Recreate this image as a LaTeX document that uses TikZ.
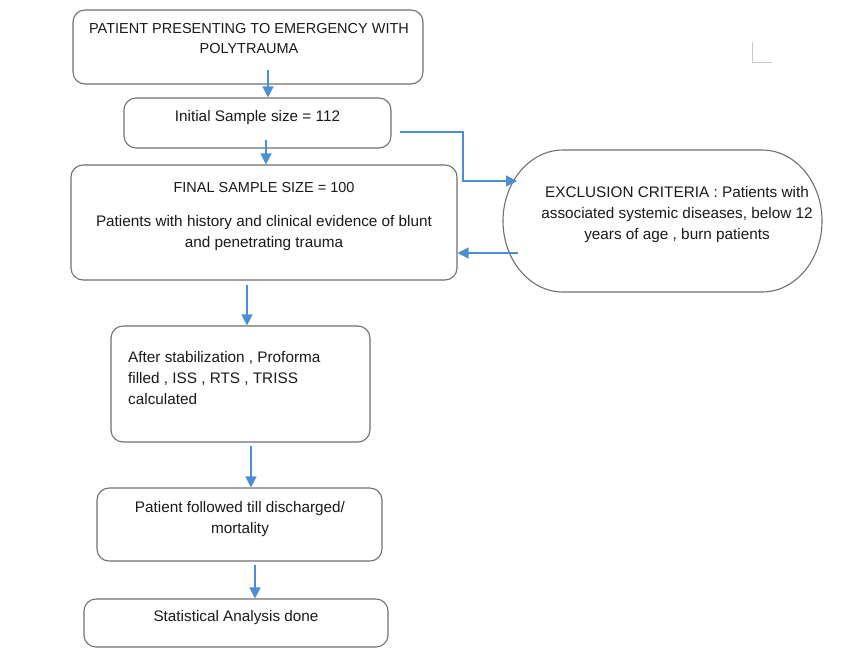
\documentclass[tikz,border=0pt]{standalone}
\usepackage{fontspec}
\setmainfont{Liberation Sans}
\usetikzlibrary{arrows.meta}
\definecolor{boxgray}{HTML}{707070}
\definecolor{arrowblue}{HTML}{4A8FD6}
\definecolor{txtcol}{HTML}{1A1A1A}
\definecolor{faint}{HTML}{C8C8C8}
\begin{document}
\begin{tikzpicture}[x=1pt,y=-1pt,
  box/.style={draw=boxgray,line width=1.1pt,rounded corners=12pt,inner sep=0pt,fill=white},
  txt/.style={text=txtcol,font=\fontsize{15.3}{21.3}\selectfont,align=center,inner sep=0pt},
  capstxt/.style={txt,font=\fontsize{14.5}{20.5}\selectfont},
  conn/.style={draw=arrowblue,line width=1.3pt,-{Triangle[length=11pt,width=11pt]}}]
\useasboundingbox (0,0) rectangle (850,657);
\fill[white] (0,0) rectangle (850,657);
% faint mark
\draw[faint,line width=1pt] (752,42) -- (752,62) -- (772,62);
% boxes
\node[box,minimum width=350pt,minimum height=74pt] (A) at (248,47) {};
\node[capstxt] (At) at (249,38.5) {PATIENT PRESENTING TO EMERGENCY WITH\\POLYTRAUMA};
\node[box,minimum width=267pt,minimum height=50pt] (B) at (257.5,123) {};
\node[txt] (Bt) at (257.5,117.5) {Initial Sample size = 112};
\node[box,minimum width=386pt,minimum height=115pt] (C) at (264,222.5) {};
\node[capstxt] (Ct1) at (264,187.5) {FINAL SAMPLE SIZE = 100};
\node[txt] (Ct2) at (264,233) {Patients with history and clinical evidence of blunt\\and penetrating trauma};
\draw[boxgray,line width=1.1pt,fill=white] (563,150) -- (762,150) arc[start angle=-90,end angle=90,x radius=60,y radius=71] -- (563,292) arc[start angle=90,end angle=270,x radius=60,y radius=71] -- cycle;
\node[txt] (E) at (677,214.5) {EXCLUSION CRITERIA : Patients with\\associated systemic diseases, below 12\\years of age , burn patients};
\node[box,minimum width=259pt,minimum height=116pt] (D) at (240.5,384) {};
\node[txt,align=left,anchor=west] (Dt) at (128,378) {After stabilization , Proforma\\filled , ISS , RTS , TRISS\\calculated};
\node[box,minimum width=285pt,minimum height=73pt] (F) at (239.5,524.5) {};
\node[txt] (Ft) at (240,519) {Patient followed till discharged/\\mortality};
\node[box,minimum width=304pt,minimum height=48pt] (G) at (236,623) {};
\node[txt] (Gt) at (236,617.5) {Statistical Analysis done};
% connector coordinates
\coordinate (a1) at (268,70);
\coordinate (b1) at (266,140);
\coordinate (b2) at (400,132);
\coordinate (b3) at (463,132);
\coordinate (b4) at (463,181);
\coordinate (e1) at (517,181);
\coordinate (e2) at (518,253);
\coordinate (c1) at (247,285);
\coordinate (d1) at (251,446);
\coordinate (f1) at (255,565);
% connectors
\draw[conn] (a1) -- (a1 |- B.north);
\draw[conn] (b1) -- (b1 |- C.north);
\draw[conn] (b2) -- (b3) -- (b4) -- (e1);
\draw[conn] (e2) -- (e2 -| C.east);
\draw[conn] (c1) -- (c1 |- D.north);
\draw[conn] (d1) -- (d1 |- F.north);
\draw[conn] (f1) -- (f1 |- G.north);
\end{tikzpicture}
\end{document}
